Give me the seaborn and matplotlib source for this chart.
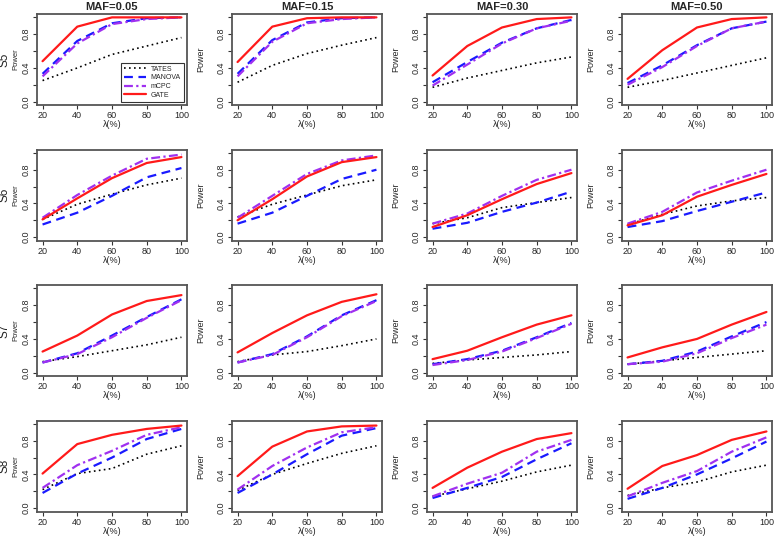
import pandas as pd
import numpy as np
import matplotlib.pyplot as plt
import seaborn as sns

# x positions and panel labels
lam = [20, 40, 60, 80, 100]
maf_labels = ["MAF=0.05", "MAF=0.15", "MAF=0.30", "MAF=0.50"]
scenarios = ["S5", "S6", "S7", "S8"]
methods = ["TATES", "MANOVA", "mCPC", "GATE"]

# power values, one list per MAF column
tates_s5 = [[0.25, 0.40, 0.56, 0.66, 0.76], [0.23, 0.43, 0.57, 0.67, 0.76],
            [0.17, 0.28, 0.37, 0.46, 0.53], [0.17, 0.25, 0.34, 0.43, 0.52]]
manova_s5 = [[0.33, 0.72, 0.93, 0.99, 1.00], [0.33, 0.73, 0.94, 0.99, 1.00],
             [0.23, 0.47, 0.70, 0.87, 0.97], [0.22, 0.43, 0.67, 0.87, 0.95]]
mcpc_s5 = [[0.30, 0.69, 0.92, 0.98, 1.00], [0.30, 0.71, 0.93, 0.98, 1.00],
           [0.19, 0.44, 0.69, 0.87, 0.96], [0.20, 0.41, 0.66, 0.87, 0.95]]
gate_s5 = [[0.48, 0.89, 1.00, 1.00, 1.00], [0.47, 0.89, 0.99, 1.00, 1.00],
           [0.31, 0.66, 0.88, 0.98, 1.00], [0.27, 0.61, 0.88, 0.98, 1.00]]

tates_s6 = [[0.21, 0.39, 0.51, 0.62, 0.70], [0.24, 0.39, 0.50, 0.61, 0.68],
            [0.16, 0.23, 0.35, 0.41, 0.47], [0.15, 0.27, 0.37, 0.43, 0.47]]
manova_s6 = [[0.15, 0.29, 0.49, 0.71, 0.82], [0.16, 0.29, 0.49, 0.69, 0.80],
             [0.10, 0.17, 0.30, 0.41, 0.54], [0.12, 0.19, 0.31, 0.42, 0.53]]
mcpc_s6 = [[0.23, 0.50, 0.73, 0.93, 0.98], [0.23, 0.49, 0.75, 0.91, 0.97],
           [0.16, 0.28, 0.49, 0.68, 0.80], [0.16, 0.30, 0.53, 0.67, 0.80]]
gate_s6 = [[0.21, 0.46, 0.70, 0.88, 0.95], [0.20, 0.45, 0.72, 0.89, 0.95],
           [0.12, 0.26, 0.45, 0.63, 0.76], [0.14, 0.26, 0.48, 0.62, 0.75]]

tates_s7 = [[0.13, 0.19, 0.26, 0.33, 0.42], [0.13, 0.21, 0.25, 0.32, 0.40],
            [0.11, 0.15, 0.18, 0.21, 0.25], [0.10, 0.14, 0.18, 0.22, 0.26]]
manova_s7 = [[0.12, 0.23, 0.44, 0.66, 0.87], [0.12, 0.22, 0.43, 0.68, 0.86],
             [0.10, 0.16, 0.26, 0.42, 0.59], [0.10, 0.14, 0.25, 0.43, 0.60]]
mcpc_s7 = [[0.12, 0.22, 0.42, 0.65, 0.86], [0.12, 0.21, 0.42, 0.67, 0.85],
           [0.09, 0.15, 0.25, 0.41, 0.58], [0.10, 0.13, 0.23, 0.41, 0.57]]
gate_s7 = [[0.25, 0.44, 0.69, 0.85, 0.92], [0.24, 0.47, 0.68, 0.84, 0.93],
           [0.16, 0.26, 0.42, 0.57, 0.68], [0.18, 0.30, 0.40, 0.57, 0.72]]

tates_s8 = [[0.22, 0.41, 0.47, 0.64, 0.74], [0.21, 0.40, 0.53, 0.65, 0.74],
            [0.14, 0.23, 0.32, 0.43, 0.51], [0.15, 0.24, 0.31, 0.43, 0.51]]
manova_s8 = [[0.18, 0.41, 0.60, 0.82, 0.94], [0.18, 0.40, 0.64, 0.86, 0.95],
             [0.12, 0.24, 0.37, 0.58, 0.77], [0.11, 0.24, 0.40, 0.59, 0.79]]
mcpc_s8 = [[0.24, 0.51, 0.68, 0.87, 0.96], [0.22, 0.50, 0.72, 0.90, 0.96],
           [0.14, 0.29, 0.42, 0.67, 0.81], [0.14, 0.30, 0.44, 0.67, 0.84]]
gate_s8 = [[0.41, 0.76, 0.87, 0.94, 0.98], [0.38, 0.73, 0.91, 0.97, 0.98],
           [0.24, 0.48, 0.67, 0.82, 0.89], [0.23, 0.50, 0.63, 0.81, 0.91]]

# build long table
rows = []
tables = {
    "S5": [tates_s5, manova_s5, mcpc_s5, gate_s5],
    "S6": [tates_s6, manova_s6, mcpc_s6, gate_s6],
    "S7": [tates_s7, manova_s7, mcpc_s7, gate_s7],
    "S8": [tates_s8, manova_s8, mcpc_s8, gate_s8],
}
for s in scenarios:
    for m, vals in zip(methods, tables[s]):
        for j, maf in enumerate(maf_labels):
            for x, y in zip(lam, vals[j]):
                rows.append({"scenario": s, "maf": maf, "method": m, "lam": x, "power": y})
df = pd.DataFrame(rows)

sns.set_theme(style="white")
plt.rcParams['font.family'] = ['Liberation Sans', 'DejaVu Sans']

palette = {"TATES": "black", "MANOVA": "#1a1aff", "mCPC": "#a030f0", "GATE": "#ff1a1a"}
dashes = {"TATES": (1, 2), "MANOVA": (4, 2.5), "mCPC": (4, 1.5, 1, 1.5), "GATE": ""}
widths = {"TATES": 1.2, "MANOVA": 1.6, "mCPC": 1.6, "GATE": 1.6}

fig = plt.figure(figsize=(7.78, 5.4), dpi=100)
left0, colstep, w = 37 / 778, 195 / 778, 150 / 778
top0, rowstep, h = 14 / 540, 135.5 / 540, 91 / 540

for i, s in enumerate(scenarios):
    for j, maf in enumerate(maf_labels):
        ax = fig.add_axes([left0 + j * colstep, 1 - top0 - i * rowstep - h, w, h])
        sub = df[(df.scenario == s) & (df.maf == maf)]
        for m in methods:
            d = sub[sub.method == m]
            sns.lineplot(data=d, x="lam", y="power", ax=ax, color=palette[m],
                         lw=widths[m], label=m if (i == 0 and j == 0) else None)
            ln = ax.get_lines()[-1]
            if dashes[m]:
                ln.set_dashes(dashes[m])
        ax.set_xlim(16.8, 103.2)
        ax.set_ylim(-0.04, 1.04)
        ax.set_xticks(lam)
        ax.set_xticklabels([str(v) for v in lam], fontsize=6.5)
        ax.set_yticks([0, 0.2, 0.4, 0.6, 0.8, 1.0])
        ax.set_yticklabels(["0.0", "", "0.4", "", "0.8", ""], fontsize=6.5,
                           rotation=90, va="center")
        ax.tick_params(axis="both", direction="out", length=3, width=0.8,
                       color="#333333", pad=1.5, bottom=True, left=True)
        for sp in ax.spines.values():
            sp.set_color("#555555")
            sp.set_linewidth(1.3)
        ax.set_xlabel("λ(%)", fontsize=6.5, labelpad=0)
        if j == 0:
            ax.set_ylabel("Power", fontsize=5.5, labelpad=2)
            fig.text(5 / 778, 1 - (top0 + i * rowstep + h / 2), s, fontsize=8.5,
                     rotation=90, ha="center", va="center")
        else:
            ax.set_ylabel("Power", fontsize=6.5, labelpad=8)
        if i == 0:
            ax.set_title(maf, fontsize=8, fontweight="bold", pad=3)
        if i == 0 and j == 0:
            leg = ax.legend(loc="lower right", fontsize=5, frameon=True,
                            fancybox=False, handlelength=3.2, borderpad=0.4,
                            labelspacing=0.25, handletextpad=0.6)
            leg.get_frame().set_edgecolor("black")
            leg.get_frame().set_linewidth(0.8)
        elif ax.get_legend() is not None:
            ax.get_legend().remove()

fig.savefig("out.png", dpi=100)
